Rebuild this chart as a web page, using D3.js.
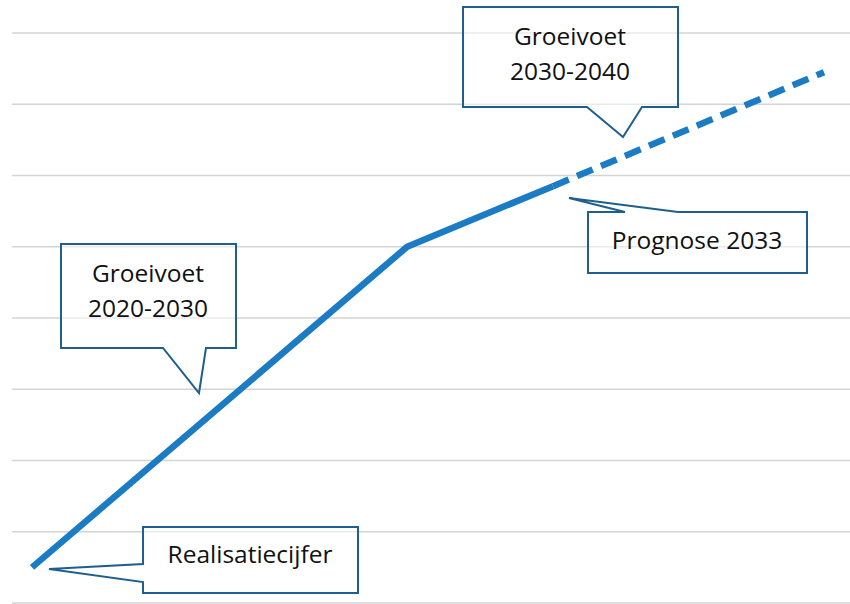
<!DOCTYPE html>
<html>
<head>
<meta charset="utf-8">
<script src="https://cdn.jsdelivr.net/npm/d3@7"></script>
<style>
  body { margin: 0; background: #fff; }
  text { font-family: "Open Sans", sans-serif; fill: #111; }
</style>
</head>
<body>
<script>
const svgWidth = 850,
    svgHeight = 604;

// years along the x axis, values on an unlabeled index scale
var realisedYears = [2021, 2030, 2033.5],
    realisedValues = [0.5, 5.0, 5.85],
    forecastYears = [2033.5, 2040],
    forecastValues = [5.85, 7.45],
    gridTicks = [0, 1, 2, 3, 4, 5, 6, 7, 8];

// callout texts (lines)
var calloutTexts = [
    ["Groeivoet", "2030-2040"],
    ["Prognose 2033"],
    ["Groeivoet", "2020-2030"],
    ["Realisatiecijfer"]
];

var x = d3.scaleLinear().domain([2021, 2040]).range([32, 824]),
    y = d3.scaleLinear().domain([0, 8]).range([603, 33]);

var svg = d3.select("body").append("svg")
    .attr("width", svgWidth)
    .attr("height", svgHeight);

// horizontal gridlines
svg.append("g")
    .attr("class", "grid")
    .selectAll("line")
    .data(gridTicks).enter()
    .append("line")
    .attr("x1", 12)
    .attr("x2", svgWidth)
    .attr("y1", function (d) { return y(d); })
    .attr("y2", function (d) { return y(d); })
    .attr("stroke", "#d4d4d4")
    .attr("stroke-width", 1.5);

var line = d3.line()
    .x(function (d) { return x(d[0]); })
    .y(function (d) { return y(d[1]); });

svg.append("path")
    .datum(d3.zip(realisedYears, realisedValues))
    .attr("d", line)
    .attr("fill", "none")
    .attr("stroke", "#1b7bc3")
    .attr("stroke-width", 6.5)
    .attr("stroke-linejoin", "round");

svg.append("path")
    .datum(d3.zip(forecastYears, forecastValues))
    .attr("d", line)
    .attr("fill", "none")
    .attr("stroke", "#1b7bc3")
    .attr("stroke-width", 6.5)
    .attr("stroke-dasharray", "17,9");

// speech-bubble callouts: box + tail
var callouts = [
    { path: "M463,7H678V107H642L623,137L587,107H463Z", cx: 570, lines: calloutTexts[0], base: [45, 80] },
    { path: "M588,212H625L569,198L678,212H807V273H588Z", cx: 697, lines: calloutTexts[1], base: [249] },
    { path: "M61,244H236V348H206L199,393L163,348H61Z", cx: 148, lines: calloutTexts[2], base: [282, 317] },
    { path: "M143,527H358V593H143V582L49,569L143,564Z", cx: 250, lines: calloutTexts[3], base: [563] }
];

var g = svg.selectAll("g.callout")
    .data(callouts).enter()
    .append("g")
    .attr("class", "callout");

g.append("path")
    .attr("d", function (d) { return d.path; })
    .attr("fill", "#fff")
    .attr("fill-opacity", 0.5)
    .attr("stroke", "#1f5f8e")
    .attr("stroke-width", 2);

g.each(function (d) {
    d3.select(this).selectAll("text")
        .data(d.lines).enter()
        .append("text")
        .attr("x", d.cx)
        .attr("y", function (t, i) { return d.base[i]; })
        .attr("text-anchor", "middle")
        .attr("font-size", 24.5)
        .text(function (t) { return t; });
});
</script>
</body>
</html>
